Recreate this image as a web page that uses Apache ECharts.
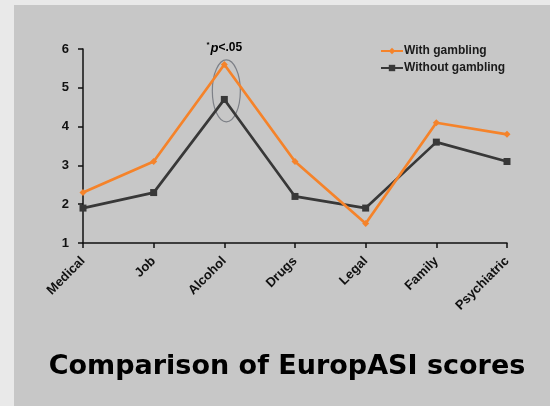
<!DOCTYPE html>
<html>
<head>
<meta charset="utf-8">
<script src="https://cdn.jsdelivr.net/npm/echarts@6/dist/echarts.min.js"></script>
<style>
html,body{margin:0;padding:0;background:#e9e9e9;}
#chart{width:550px;height:406px;}
</style>
</head>
<body>
<div id="chart"></div>
<script>
const categories = ['Medical', 'Job', 'Alcohol', 'Drugs', 'Legal', 'Family', 'Psychiatric'];
const withGambling = [2.3, 3.1, 5.6, 3.1, 1.5, 4.1, 3.8];
const withoutGambling = [1.9, 2.3, 4.7, 2.2, 1.9, 3.6, 3.1];
const yTicks = [1, 2, 3, 4, 5, 6];
const seriesNames = ['With gambling', 'Without gambling'];
const chartTitle = 'Comparison of EuropASI scores';
const annotCategory = 'Alcohol';
const annotEllipseValue = 4.92;

const chart = echarts.init(document.getElementById('chart'), null, {renderer: 'canvas'});
const font = '"Liberation Sans", Arial, sans-serif';

chart.setOption({
  backgroundColor: '#e9e9e9',
  animation: false,
  grid: {left: 83, right: 43, top: 49, bottom: 163, containLabel: false},
  legend: {
    orient: 'vertical',
    left: 375, top: 40,
    itemWidth: 22, itemHeight: 8, itemGap: 5,
    textStyle: {fontFamily: font, fontWeight: 'bold', fontSize: 12, color: '#1a1a1a', lineHeight: 12, padding: [0,0,0,-4]},
    data: seriesNames
  },
  xAxis: {
    type: 'category',
    data: categories,
    boundaryGap: false,
    axisLine: {lineStyle: {color: '#111', width: 1.5}},
    axisTick: {show: true, alignWithLabel: true, length: 5, lineStyle: {color: '#111', width: 1.5}},
    axisLabel: {rotate: 45, margin: 16, fontFamily: font, fontWeight: 'bold', fontSize: 13, color: '#111', interval: 0}
  },
  yAxis: {
    type: 'value',
    min: yTicks[0], max: yTicks[yTicks.length - 1], interval: 1,
    axisLine: {show: true, lineStyle: {color: '#111', width: 1.5}},
    axisTick: {show: true, length: 5, lineStyle: {color: '#111', width: 1.5}},
    splitLine: {show: false},
    axisLabel: {margin: 14, fontFamily: font, fontWeight: 'bold', fontSize: 13, color: '#111'}
  },
  series: [
    {
      name: seriesNames[0], type: 'line', data: withGambling,
      symbol: 'diamond', symbolSize: 7, z: 3,
      lineStyle: {color: '#f5832a', width: 2.7},
      itemStyle: {color: '#f5832a'}
    },
    {
      name: seriesNames[1], type: 'line', data: withoutGambling,
      symbol: 'rect', symbolSize: 7, z: 2,
      lineStyle: {color: '#383838', width: 2.7},
      itemStyle: {color: '#383838'}
    }
  ]
});

const ax = chart.convertToPixel({xAxisIndex: 0}, annotCategory);
const ey = chart.convertToPixel({yAxisIndex: 0}, annotEllipseValue);
const top6 = chart.convertToPixel({yAxisIndex: 0}, yTicks[yTicks.length - 1]);

chart.setOption({
  graphic: [
    {type: 'rect', z: -10, silent: true, shape: {x: 14, y: 5, width: 540, height: 405}, style: {fill: '#c7c7c7'}},
    {type: 'ellipse', z: 1, silent: true, shape: {cx: ax + 2, cy: ey, rx: 14, ry: 31}, style: {fill: 'none', stroke: '#7d8087', lineWidth: 1.2}},
    {type: 'text', z: 5, x: ax, y: top6 - 1, style: {
      text: '{s|*}{p|p}{t|<.05}', align: 'center', verticalAlign: 'middle',
      rich: {
        s: {fontFamily: font, fontSize: 8, fontWeight: 'bold', color: '#222', verticalAlign: 'top', padding: [0,1,6,0]},
        p: {fontFamily: font, fontSize: 13, fontStyle: 'italic', fontWeight: 'bold', color: '#222'},
        t: {fontFamily: font, fontSize: 12, fontWeight: 'bold', color: '#222'}
      }
    }},
    {type: 'text', z: 5, x: 287, y: 367, style: {
      text: chartTitle, align: 'center', verticalAlign: 'middle',
      fontFamily: '"DejaVu Sans", Verdana, sans-serif', fontWeight: 'bold', fontSize: 27, fill: '#000'
    }}
  ]
});
</script>
</body>
</html>
